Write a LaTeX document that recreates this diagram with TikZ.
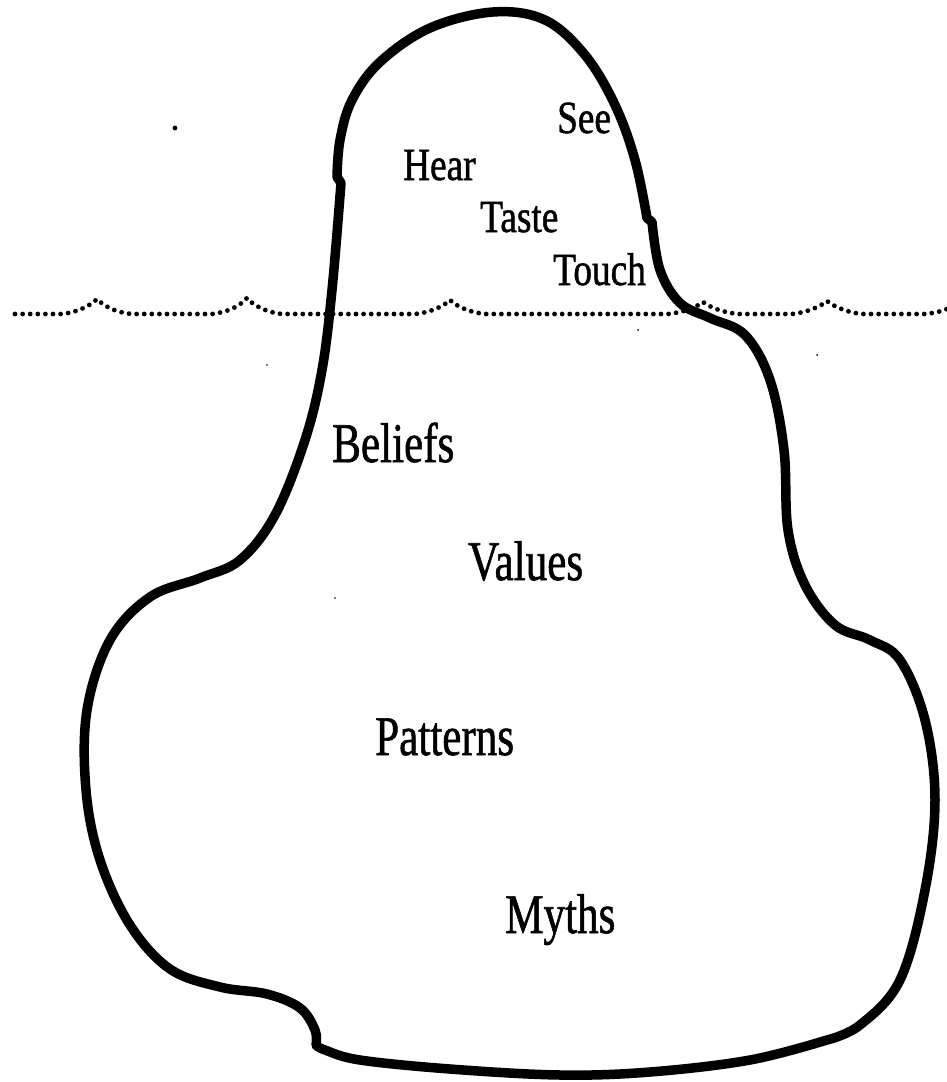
\documentclass[tikz,border=0pt]{standalone}
\usepackage{fontspec}
\setmainfont[FakeBold=1.6]{Liberation Serif}
\newfontfamily\labelfont[FakeBold=1.2]{Liberation Serif}
\begin{document}
\begin{tikzpicture}[x=1pt,y=-1pt,
  berg/.style={line width=9.5pt,line join=round,line cap=round},
  water/.style={line width=4.8pt,line cap=round,dash pattern=on 0pt off 7.6pt},
  speck/.style={fill=black},
  topword/.style={anchor=base west,inner sep=0pt,font=\labelfont\fontsize{46}{50}\selectfont},
  lowword/.style={anchor=base west,inner sep=0pt,font=\labelfont\fontsize{56}{60}\selectfont}]
\useasboundingbox (0,0) rectangle (947,1082);

% water line
\draw[water] (15,314)
  -- (62,314) .. controls (80,312) and (92,304) .. (97,299) .. controls (102,304) and (112,312) .. (132,314)
  -- (212,314) .. controls (230,312) and (242,304) .. (247,298) .. controls (252,304) and (264,312) .. (282,314)
  -- (415,314) .. controls (433,312) and (445,305) .. (450,300) .. controls (455,305) and (467,312) .. (485,314)
  -- (668,314) .. controls (686,312) and (698,306) .. (703,302) .. controls (708,306) and (720,312) .. (738,314)
  -- (792,314) .. controls (810,312) and (822,305) .. (827,301) .. controls (832,305) and (844,312) .. (862,314)
  -- (925,314) .. controls (935,313) and (942,311) .. (947,309);

% iceberg outline
\draw[berg]
  plot[smooth,tension=0.6] coordinates {(337,177) (340,140) (352,100) (380,62) (430,28) (493,12) (545,20) (585,55) (615,105) (635,160) (647,218)}
  -- (652,222)
  -- plot[smooth,tension=0.6] coordinates {(652,222) (660,270) (680,303) (710,318) (745,335) (770,380) (784,450) (788,530) (805,585) (835,625) (870,640) (900,660) (925,720) (935,800) (925,890) (900,980) (860,1025) (827,1040)}
  -- plot[smooth,tension=0.6] coordinates {(827,1040) (750,1060) (650,1072) (560,1075) (450,1069) (360,1060) (325,1050) (316,1045)}
  -- plot[smooth,tension=0.6] coordinates {(316,1045) (315,1030) (300,1008) (267,994) (220,987) (170,969) (130,925) (100,860) (86,790) (87,710) (110,640) (150,597) (200,578) (240,560) (275,515) (305,440) (322,370) (332,290) (341,183)}
  -- cycle;

% specks
\fill[speck] (175,128) circle (2.4pt);
\fill[speck] (638,330) circle (1pt);
\fill[speck] (817,355) circle (1pt);
\fill[speck] (267,365) circle (0.8pt);
\fill[speck] (335,598) circle (0.8pt);

% labels
\node[topword] (see)   at (557,133) {\scalebox{0.81}[1]{See}};
\node[topword] (hear)  at (403,180) {\scalebox{0.81}[1]{Hear}};
\node[topword] (taste) at (480,232) {\scalebox{0.81}[1]{Taste}};
\node[topword] (touch) at (553,285) {\scalebox{0.81}[1]{Touch}};
\node[lowword] (beliefs)  at (332,462) {\scalebox{0.77}[1]{Beliefs}};
\node[lowword] (values)   at (468,580) {\scalebox{0.77}[1]{Values}};
\node[lowword] (patterns) at (375,755) {\scalebox{0.77}[1]{Patterns}};
\node[lowword] (myths)    at (505,933) {\scalebox{0.77}[1]{Myths}};
\end{tikzpicture}
\end{document}
